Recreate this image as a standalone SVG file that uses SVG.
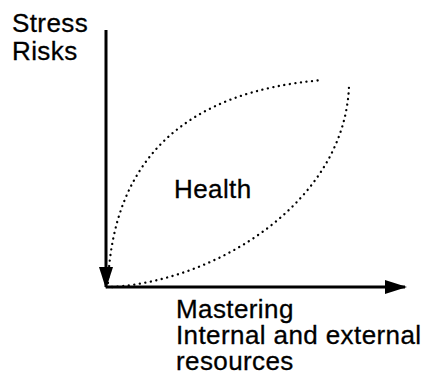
<svg xmlns="http://www.w3.org/2000/svg" width="423" height="376" viewBox="0 0 423 376">
<style>
text{font-family:"Liberation Sans",Arial,sans-serif;font-size:26px;letter-spacing:0.4px;fill:#000;stroke:#000;stroke-width:0.3}
.axis{stroke:#000;stroke-width:3;fill:none}
.dot{stroke:#000;stroke-width:2.3;fill:none;stroke-dasharray:0.1 5.5;stroke-linecap:round}
</style>
<defs>
<marker id="ah" markerWidth="22" markerHeight="14" refX="20" refY="7" orient="auto" markerUnits="userSpaceOnUse"><path d="M0,0 L22,7 L0,14 Z" fill="#000"/></marker>
</defs>
<rect width="423" height="376" fill="#fff"/>
<g id="connectors">
<path class="axis" d="M106,30 V287" marker-end="url(#ah)"/>
<path class="axis" d="M106,287 H405" marker-end="url(#ah)"/>
</g>
<g id="health">
<path class="dot" d="M108,283 Q116,97 323,80"/>
<path class="dot" d="M112,287 C220,280 345,200 349,86"/>
<text x="174" y="198">Health</text>
</g>
<g id="y-label"><text x="12" y="32">Stress</text><text x="12" y="60">Risks</text></g>
<g id="x-label"><text x="176" y="318">Mastering</text><text x="176" y="344">Internal and external</text><text x="176" y="370">resources</text></g>
</svg>
